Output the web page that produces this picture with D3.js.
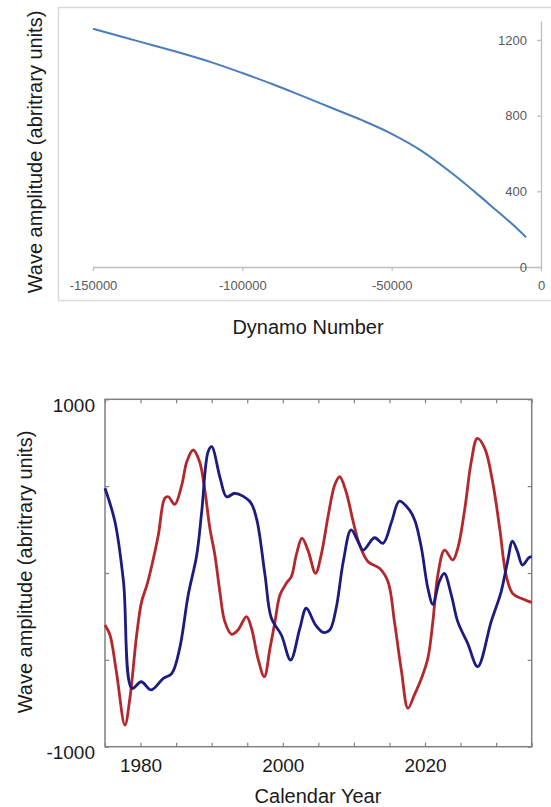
<!DOCTYPE html>
<html lang="en">
<head>
<meta charset="UTF-8">
<title>Wave amplitude vs dynamo number</title>
<style>
  body { margin: 0; background: #fff; }
  svg { display: block; font-family: "Liberation Sans", Arial, sans-serif; }
  .xl-axis text { font-size: 13px; fill: #595959; }
  .xl-axis path, .xl-axis line { stroke: #bfbfbf; stroke-width: 1.3; }
  .box-axis text { font-size: 19px; fill: #1a1a1a; }
  .box-axis line { stroke: #808080; stroke-width: 1.2; }
  .box-axis path { display: none; }
  .title { font-size: 20px; fill: #1a1a1a; text-anchor: middle; }
</style>
</head>
<body>
<svg id="chart" width="551" height="807"></svg>
<script src="https://cdnjs.cloudflare.com/ajax/libs/d3/7.9.0/d3.min.js"></script>
<script>
// top panel: amplitude against dynamo number
const dynamoNumbers = [-150000, -140000, -130000, -120000, -110000, -100000, -90000, -80000,
  -70000, -60000, -50000, -40000, -30000, -20000, -15000, -10000, -5000];
const dynamoAmplitude = [1259, 1215, 1172, 1128, 1080, 1025, 967, 904,
  840, 776, 704, 614, 498, 368, 300, 232, 157];
const dynamoTicks = [-150000, -100000, -50000, 0];
const amplitudeTicks = [0, 400, 800, 1200];

// bottom panel: two wave series against calendar year
const blueYears = [1975, 1976.4, 1977.6, 1978.8, 1980.1, 1981.5, 1983.2, 1984.4, 1985.5, 1986.7,
  1987.9, 1988.6, 1989.5, 1990, 1991.2, 1992.1, 1993.3, 1995.4, 1996.3, 1997.5, 1998.4, 1999.8,
  2001.1, 2002.4, 2003.3, 2004.6, 2005.7, 2006.6, 2007.5, 2008.5, 2009.6, 2010.6, 2011.3, 2012.9,
  2014.1, 2015.3, 2016.4, 2017.8, 2018.6, 2019.5, 2020.4, 2021.1, 2022, 2022.7, 2023.7, 2024.6,
  2026, 2027.4, 2029.3, 2030.7, 2031.6, 2032.3, 2033, 2033.7, 2034.6, 2035];
const blueValues = [488, 295, -50, -664, -626, -673, -607, -578, -434, -127,
  104, 353, 698, 727, 545, 439, 459, 410, 315, -12, -261, -357,
  -501, -318, -203, -299, -342, -328, -203, 65, 248, 180, 132, 203,
  171, 295, 414, 363, 300, 142, -88, -180, -50, -2, -127, -280,
  -405, -539, -280, -108, 65, 184, 123, 46, 88, 95];

const redYears = [1975, 1975.7, 1976.6, 1977.8, 1978.5, 1979.45, 1980.15, 1980.9, 1981.6, 1982.5,
  1983.4, 1983.9, 1984.8, 1985.8, 1986.5, 1987.4, 1988.3, 1989, 1989.75, 1990.45, 1991.15, 1991.85,
  1992.8, 1993.7, 1994.9, 1995.6, 1996.5, 1997.4, 1998.2, 1998.9, 1999.6, 2000.5, 2001.2, 2001.9,
  2002.7, 2003.6, 2004.6, 2005.4, 2006.4, 2007.3, 2008, 2008.9, 2009.9, 2010.8, 2012, 2013.6,
  2014.8, 2015.7, 2016.7, 2017.6, 2018.5, 2019.5, 2020.4, 2021.1, 2021.8, 2022.75, 2023.9, 2024.6,
  2025.6, 2026.5, 2027.35, 2028.4, 2029.5, 2030.5, 2031.4, 2032.3, 2033.5, 2034.7, 2035];
const redValues = [-299, -357, -568, -875, -721, -357, -165, -69, 46, 219,
  430, 439, 395, 507, 641, 708, 641, 488, 257, 104, -108, -280,
  -353, -328, -251, -318, -491, -597, -434, -280, -127, -59, -21, 104,
  200, 123, -2, 104, 334, 507, 554, 468, 295, 161, 65, 27,
  -50, -280, -568, -779, -702, -606, -491, -280, -12, 132, 75, 142,
  372, 641, 775, 718, 526, 257, -12, -117, -146, -165, -170];
const yearTicks = d3.range(1975, 2036, 5);
const yearLabels = [1980, 2000, 2020];
const waveTicks = [-1000, -500, 0, 500, 1000];

const svg = d3.select("#chart");

// ---------- top panel ----------
svg.append("rect")
  .attr("x", 58.5).attr("y", 7.5)
  .attr("width", 510).attr("height", 293)
  .attr("fill", "none").attr("stroke", "#d9d9d9").attr("stroke-width", 1.5);

const x1 = d3.scaleLinear().domain([-150000, 0]).range([93, 541]);
const y1 = d3.scaleLinear().domain([0, 1300]).range([267, 21]);

svg.append("g")
  .attr("class", "xl-axis")
  .attr("transform", "translate(0," + y1(0) + ")")
  .call(d3.axisBottom(x1).tickValues(dynamoTicks).tickSizeInner(4).tickSizeOuter(0)
    .tickPadding(10).tickFormat(d => String(d)));

svg.append("g")
  .attr("class", "xl-axis")
  .attr("transform", "translate(" + x1(0) + ",0)")
  .call(d3.axisLeft(y1).tickValues(amplitudeTicks).tickSizeInner(4).tickSizeOuter(0)
    .tickPadding(10).tickFormat(d => String(d)));

const topLine = d3.line()
  .x((d, i) => x1(dynamoNumbers[i]))
  .y(d => y1(d))
  .curve(d3.curveMonotoneX);

svg.append("path")
  .datum(dynamoAmplitude)
  .attr("d", topLine)
  .attr("fill", "none")
  .attr("stroke", "#4a7ebb")
  .attr("stroke-width", 2);

svg.append("text").attr("class", "title")
  .attr("transform", "translate(42,152) rotate(-90)")
  .text("Wave amplitude (abritrary units)");
svg.append("text").attr("class", "title")
  .attr("x", 308).attr("y", 334)
  .text("Dynamo Number");

// ---------- bottom panel ----------
const x2 = d3.scaleLinear().domain([1975, 2035]).range([105, 531.7]);
const y2 = d3.scaleLinear().domain([-1000, 1000]).range([746.7, 399.3]);

svg.append("g").attr("class", "box-axis")
  .attr("transform", "translate(0," + y2(-1000) + ")")
  .call(d3.axisBottom(x2).tickValues(yearTicks).tickSizeInner(-4).tickSizeOuter(0)
    .tickPadding(12).tickFormat(d => yearLabels.includes(d) ? String(d) : ""));

svg.append("g").attr("class", "box-axis")
  .attr("transform", "translate(0," + y2(1000) + ")")
  .call(d3.axisTop(x2).tickValues(yearTicks).tickSizeInner(-4).tickSizeOuter(0).tickFormat(""));

const leftAxis = svg.append("g").attr("class", "box-axis")
  .attr("transform", "translate(" + x2(1975) + ",0)")
  .call(d3.axisLeft(y2).tickValues(waveTicks).tickSizeInner(-4).tickSizeOuter(0)
    .tickPadding(10).tickFormat(d => Math.abs(d) === 1000 ? String(d) : ""));
leftAxis.selectAll("text").attr("dy", "0.62em");

svg.append("g").attr("class", "box-axis")
  .attr("transform", "translate(" + x2(2035) + ",0)")
  .call(d3.axisRight(y2).tickValues(waveTicks).tickSizeInner(-4).tickSizeOuter(0).tickFormat(""));

svg.append("rect")
  .attr("x", x2(1975)).attr("y", y2(1000))
  .attr("width", x2(2035) - x2(1975)).attr("height", y2(-1000) - y2(1000))
  .attr("fill", "none").attr("stroke", "#808080").attr("stroke-width", 1.5);

const waveLine = years => d3.line()
  .x((d, i) => x2(years[i]))
  .y(d => y2(d))
  .curve(d3.curveCatmullRom.alpha(0.5));

svg.append("path")
  .datum(redValues)
  .attr("d", waveLine(redYears))
  .attr("fill", "none")
  .attr("stroke", "#b3272d")
  .attr("stroke-width", 2.8);

svg.append("path")
  .datum(blueValues)
  .attr("d", waveLine(blueYears))
  .attr("fill", "none")
  .attr("stroke", "#1b1b80")
  .attr("stroke-width", 2.8);

svg.append("text").attr("class", "title")
  .attr("transform", "translate(32,572) rotate(-90)")
  .text("Wave amplitude (abritrary units)");
svg.append("text").attr("class", "title")
  .attr("x", 318).attr("y", 803)
  .text("Calendar Year");
</script>
</body>
</html>
